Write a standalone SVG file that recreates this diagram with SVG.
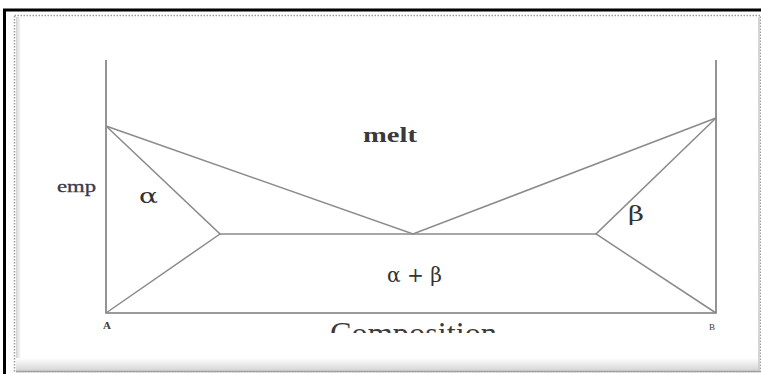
<svg xmlns="http://www.w3.org/2000/svg" width="761" height="374" viewBox="0 0 761 374">
<style>
.ax{stroke:#7a7a7a;stroke-width:1.6;fill:none}
.ln{stroke:#8a8a8a;stroke-width:1.5;fill:none}
.lb{font-family:"Liberation Serif","DejaVu Serif",serif;fill:#3a3a3a}
.gk{font-family:"DejaVu Serif",serif;fill:#333}
</style>
<defs>
<clipPath id="cc"><rect x="0" y="0" width="761" height="333"/></clipPath>
<linearGradient id="gb" x1="0" y1="0" x2="0" y2="1"><stop offset="0" stop-color="#ffffff"/><stop offset="1" stop-color="#d4d4d4"/></linearGradient>
<linearGradient id="gl" x1="0" y1="0" x2="1" y2="0"><stop offset="0" stop-color="#d0d0d0"/><stop offset="1" stop-color="#ffffff"/></linearGradient>
</defs>
<rect x="0" y="0" width="761" height="374" fill="#ffffff"/>
<rect x="4.5" y="10" width="760" height="370" fill="none" stroke="#000" stroke-width="3"/>
<rect x="14.5" y="15.5" width="746" height="356" fill="#fff" stroke="#9a9a9a" stroke-width="1.5" stroke-dasharray="1.5,1.5"/>
<rect x="16" y="17" width="5" height="354" fill="url(#gl)"/>
<rect x="16" y="358" width="744" height="13" fill="url(#gb)"/>
<line x1="16" y1="371.5" x2="760" y2="371.5" stroke="#a0a0a0" stroke-width="1.5"/>
<line x1="759" y1="17" x2="759" y2="371" stroke="#c8c8c8" stroke-width="1.5"/>
<g id="axes">
<path class="ax" d="M106,60 V313 H716 V60"/>
</g>
<g id="connectors">
<path class="ln" d="M106,126 L413,234 L716,118"/>
<path class="ln" d="M106,126 L220,234 L106,313"/>
<path class="ln" d="M716,118 L596,234 L716,313"/>
<path class="ln" d="M220,234 H596"/>
</g>
<g id="labels">
<text class="lb" x="363" y="142" font-size="22" font-weight="bold" fill="#474747" textLength="54" lengthAdjust="spacingAndGlyphs">melt</text>
<text class="lb" x="57" y="192" font-size="16" fill="#45395a" stroke="#45395a" stroke-width="0.3" textLength="39" lengthAdjust="spacingAndGlyphs">emp</text>
<text class="gk" x="139" y="203" font-size="21" textLength="19" lengthAdjust="spacingAndGlyphs">α</text>
<text class="gk" x="628" y="221" font-size="21" textLength="16" lengthAdjust="spacingAndGlyphs">β</text>
<text class="gk" x="387" y="282" font-size="20" textLength="55" lengthAdjust="spacingAndGlyphs">α + β</text>
<text class="lb" x="107" y="329" font-size="11" font-weight="bold" text-anchor="middle" fill="#555">A</text>
<text class="lb" x="712" y="330" font-size="9" text-anchor="middle" fill="#666">B</text>
<g clip-path="url(#cc)"><text class="lb" x="330" y="344" font-size="32" fill="#333" textLength="167" lengthAdjust="spacingAndGlyphs">Composition</text></g>
</g>
</svg>
